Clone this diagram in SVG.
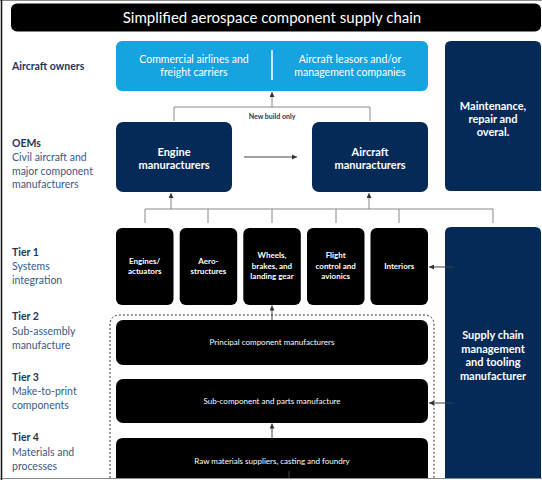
<svg xmlns="http://www.w3.org/2000/svg" width="542" height="480" viewBox="0 0 542 480">
<defs>
<style>
text{font-family:Lato,"Open Sans","Liberation Sans",sans-serif;}
.w{fill:#fff;text-anchor:middle;}
.lbl{fill:#1d365f;font-size:10.5px;font-weight:bold;}
.sub{fill:#3a5986;font-size:10.5px;}
.navy{fill:#062a57;}
.blk{fill:#000;}
.bt{font-size:11px;font-weight:bold;}
.t1{font-size:8px;font-weight:bold;}
.t2{font-size:8px;}
.con{stroke:#888;stroke-width:1;fill:none;}
.dk{stroke:#444;stroke-width:1;fill:none;}
</style>
<marker id="ah" viewBox="0 0 6 6" refX="6" refY="3" markerWidth="5" markerHeight="5" orient="auto"><path d="M0,0L6,3L0,6Z" fill="#333"/></marker>
</defs>
<rect x="0" y="0" width="542" height="480" fill="#fff"/>
<g id="frame">
<line x1="0" y1="0.5" x2="542" y2="0.5" stroke="#8a8a8a"/>
<line x1="0" y1="478.5" x2="542" y2="478.5" stroke="#8a8a8a"/>
<line x1="1.5" y1="0" x2="1.5" y2="480" stroke="#111" stroke-width="1.5"/>
</g>
<g id="title">
<rect x="11" y="3.5" width="530" height="28" rx="6" fill="#000"/>
<text x="272" y="22.5" class="w" font-size="15">Simplified aerospace component supply chain</text>
</g>
<g id="row-labels">
<text x="12" y="70" class="lbl">Aircraft owners</text>
<text x="12" y="147" class="lbl">OEMs</text>
<text x="12" y="161" class="sub">Civil aircraft and</text>
<text x="12" y="174.5" class="sub">major component</text>
<text x="12" y="188" class="sub">manufacturers</text>
<text x="12" y="256" class="lbl">Tier 1</text>
<text x="12" y="270" class="sub">Systems</text>
<text x="12" y="283.5" class="sub">integration</text>
<text x="12" y="320" class="lbl">Tier 2</text>
<text x="12" y="334.5" class="sub">Sub-assembly</text>
<text x="12" y="348.5" class="sub">manufacture</text>
<text x="12" y="381" class="lbl">Tier 3</text>
<text x="12" y="395" class="sub">Make-to-print</text>
<text x="12" y="409" class="sub">components</text>
<text x="12" y="441" class="lbl">Tier 4</text>
<text x="12" y="456" class="sub">Materials and</text>
<text x="12" y="470" class="sub">processes</text>
</g>
<g id="owners">
<rect x="116" y="41" width="312" height="50" rx="6" fill="#17a3e0"/>
<line x1="272" y1="50" x2="272" y2="80" stroke="#fff" stroke-width="1.5"/>
<text x="194" y="63" class="w" font-size="10.5">Commercial airlines and</text>
<text x="194" y="76" class="w" font-size="10.5">freight carriers</text>
<text x="350" y="63" class="w" font-size="10.5">Aircraft leasors and/or</text>
<text x="350" y="76" class="w" font-size="10.5">management companies</text>
</g>
<g id="mro">
<path d="M451,41H535Q541,41 541,47V191H451Q445,191 445,185V47Q445,41 451,41Z" class="navy"/>
<text x="493" y="110" class="w bt">Maintenance,</text>
<text x="493" y="123" class="w bt">repair and</text>
<text x="493" y="136" class="w bt">overal.</text>
</g>
<g id="engine">
<rect x="116" y="122" width="116" height="70" rx="7" class="navy"/>
<text x="174" y="156" class="w bt">Engine</text>
<text x="174" y="169" class="w bt">manuracturers</text>
</g>
<g id="aircraft">
<rect x="312" y="122" width="116" height="70" rx="7" class="navy"/>
<text x="370" y="156" class="w bt">Aircraft</text>
<text x="370" y="169" class="w bt">manuracturers</text>
</g>
<g id="tier1-engines">
<rect x="116" y="228" width="57.5" height="77" rx="6" class="blk"/>
<text x="144.7" y="264" class="w t1">Engines/</text>
<text x="144.7" y="274" class="w t1">actuators</text>
</g>
<g id="tier1-aero">
<rect x="179.7" y="228" width="57.5" height="77" rx="6" class="blk"/>
<text x="208.4" y="264" class="w t1">Aero-</text>
<text x="208.4" y="274" class="w t1">structures</text>
</g>
<g id="tier1-wheels">
<rect x="243.3" y="228" width="57.5" height="77" rx="6" class="blk"/>
<text x="272" y="258" class="w t1">Wheels,</text>
<text x="272" y="268.5" class="w t1">brakes, and</text>
<text x="272" y="279" class="w t1">landing gear</text>
</g>
<g id="tier1-flight">
<rect x="307" y="228" width="57.5" height="77" rx="6" class="blk"/>
<text x="335.7" y="258" class="w t1">Flight</text>
<text x="335.7" y="268.5" class="w t1">control and</text>
<text x="335.7" y="279" class="w t1">avionics</text>
</g>
<g id="tier1-interiors">
<rect x="370.5" y="228" width="57.5" height="77" rx="6" class="blk"/>
<text x="399.2" y="269" class="w t1">Interiors</text>
</g>
<g id="scm">
<path d="M451,227H535Q541,227 541,233V478H445V233Q445,227 451,227Z" class="navy"/>
<text x="493" y="339" class="w bt">Supply chain</text>
<text x="493" y="352.5" class="w bt">management</text>
<text x="493" y="366" class="w bt">and tooling</text>
<text x="493" y="379.5" class="w bt">manufacturer</text>
</g>
<g id="tiers-group">
<path d="M110,478V325Q110,315 120,315H424Q434,315 434,325V478" fill="none" stroke="#333" stroke-width="1" stroke-dasharray="2,2"/>
</g>
<g id="tier2">
<rect x="116" y="320" width="312" height="45" rx="7" class="blk"/>
<text x="272" y="344.5" class="w t2">Principal component manufacturers</text>
</g>
<g id="tier3">
<rect x="116" y="379" width="312" height="44" rx="7" class="blk"/>
<text x="272" y="403.5" class="w t2">Sub-component and parts manufacture</text>
</g>
<g id="tier4">
<path d="M123,438H421Q428,438 428,445V478H116V445Q116,438 123,438Z" class="blk"/>
<text x="272" y="464" class="w t2">Raw materials suppliers, casting and foundry</text>
</g>
<g id="connectors">
<path d="M174,121V107H370V121" class="con"/>
<line x1="272" y1="107" x2="272" y2="92" class="con" marker-end="url(#ah)"/>
<text x="272" y="119" font-size="7" font-weight="bold" fill="#1d365f" text-anchor="middle">New build only</text>
<line x1="244" y1="157" x2="297" y2="157" class="dk" marker-end="url(#ah)"/>
<path d="M145,223V209H493V223M208,209V223M272,209V223M336,209V223M399,209V223" class="con"/>
<line x1="171" y1="209" x2="171" y2="193" class="con" marker-end="url(#ah)"/>
<line x1="369" y1="209" x2="369" y2="193" class="con" marker-end="url(#ah)"/>
<line x1="453" y1="267" x2="429" y2="267" class="dk" marker-end="url(#ah)"/>
<line x1="272" y1="320" x2="272" y2="305.5" class="dk" marker-end="url(#ah)"/>
<line x1="452" y1="403" x2="429" y2="403" class="dk" marker-end="url(#ah)"/>
<line x1="272" y1="438" x2="272" y2="423.5" class="dk" marker-end="url(#ah)"/>
<line x1="289" y1="471" x2="289" y2="478" class="dk"/>
</g>
</svg>
